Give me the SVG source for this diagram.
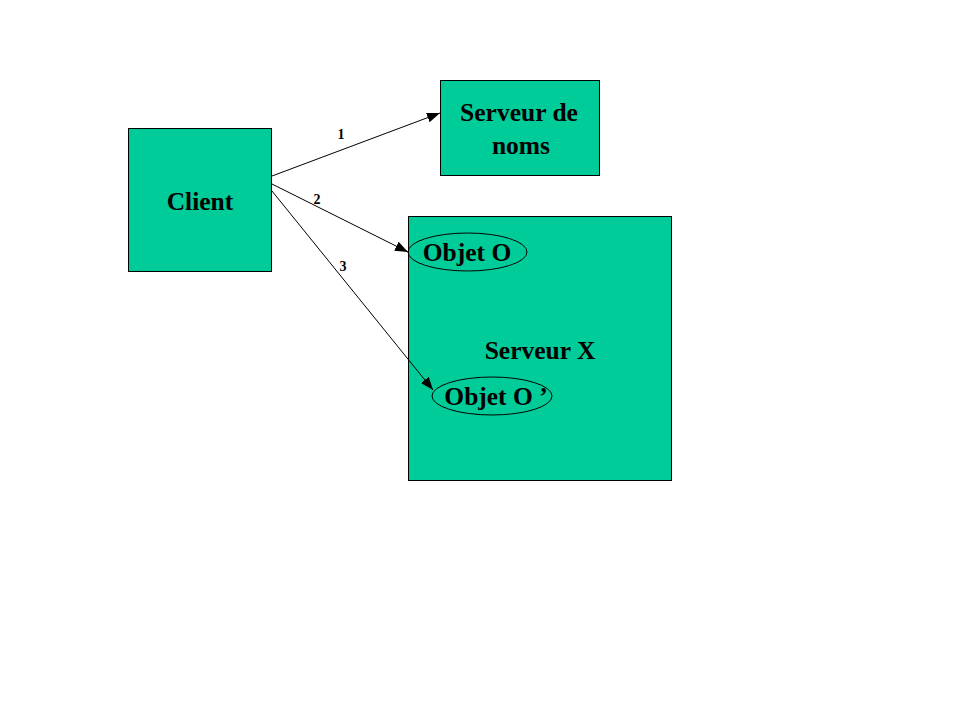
<svg xmlns="http://www.w3.org/2000/svg" width="959" height="719" viewBox="0 0 959 719">
<style>
.box{fill:#00CC99;stroke:#000;stroke-width:1}
.ell{fill:none;stroke:#000;stroke-width:1}
.t{font-family:"Liberation Serif",serif;font-weight:bold;font-size:25.5px;fill:#000;text-anchor:middle}
.n{font-family:"Liberation Serif",serif;font-weight:bold;font-size:14px;fill:#000;text-anchor:middle}
.c{stroke:#000;stroke-width:1;fill:none;marker-end:url(#ah)}
</style>
<defs>
<marker id="ah" viewBox="0 0 13 10" refX="13" refY="5" markerWidth="13" markerHeight="10" markerUnits="userSpaceOnUse" orient="auto">
<path d="M0,0 L13,5 L0,10 Z" fill="#000"/>
</marker>
</defs>
<rect width="959" height="719" fill="#fff"/>
<g id="client">
<rect class="box" x="128.5" y="128.5" width="143" height="143"/>
<text class="t" x="200" y="210">Client</text>
</g>
<g id="serveur-noms">
<rect class="box" x="440.5" y="80.5" width="159" height="95"/>
<text class="t" x="519" y="121">Serveur de</text>
<text class="t" x="521" y="154">noms</text>
</g>
<g id="serveur-x">
<rect class="box" x="408.5" y="216.5" width="263" height="264"/>
<text class="t" x="540" y="359">Serveur X</text>
</g>
<g id="objet-o">
<ellipse class="ell" cx="467.5" cy="252" rx="59.5" ry="19"/>
<text class="t" x="467" y="261">Objet O</text>
</g>
<g id="objet-o2">
<ellipse class="ell" cx="492" cy="396" rx="60" ry="19"/>
<text class="t" x="496" y="405">Objet O ’</text>
</g>
<g id="connectors">
<line class="c" x1="272" y1="176" x2="440" y2="113"/>
<line class="c" x1="272" y1="184" x2="408" y2="252"/>
<line class="c" x1="272" y1="191" x2="433" y2="390"/>
<text class="n" x="341" y="139">1</text>
<text class="n" x="317" y="204">2</text>
<text class="n" x="343" y="271">3</text>
</g>
</svg>
